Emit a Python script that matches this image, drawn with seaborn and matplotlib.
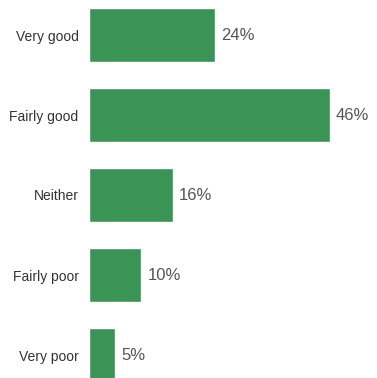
import pandas as pd
import seaborn as sns
import matplotlib.pyplot as plt

# Survey answers and shares (%)
categories = ["Very good", "Fairly good", "Neither", "Fairly poor", "Very poor"]
shares = [24, 46, 16, 10, 5]
value_labels = ["24%", "46%", "16%", "10%", "5%"]

df = pd.DataFrame({"Answer": categories, "Share": shares})

sns.set_style("white")
plt.rcParams["font.family"] = ["Liberation Sans", "DejaVu Sans"]

fig = plt.figure(figsize=(3.77, 3.78), dpi=100)
ax = fig.add_axes([89 / 377, 0, 288 / 377, 1])

sns.barplot(data=df, x="Share", y="Answer", orient="h", color="#3b9455",
            saturation=1, width=0.675, ax=ax)

# value labels next to bars
for i, (v, lab) in enumerate(zip(shares, value_labels)):
    ax.annotate(lab, xy=(v, i), xytext=(4.5, 0), textcoords="offset points",
                ha="left", va="center", fontsize=12, color="#555555")

ax.set_xlim(0, 55)
ax.set_ylim(4.2875, -0.4375)
ax.set_xlabel("")
ax.set_ylabel("")
ax.set_xticks([])
ax.tick_params(axis="y", length=0, pad=7.5, labelsize=10, labelcolor="#333333")
sns.despine(ax=ax, left=True, bottom=True)

fig.savefig("out.png", dpi=100)
